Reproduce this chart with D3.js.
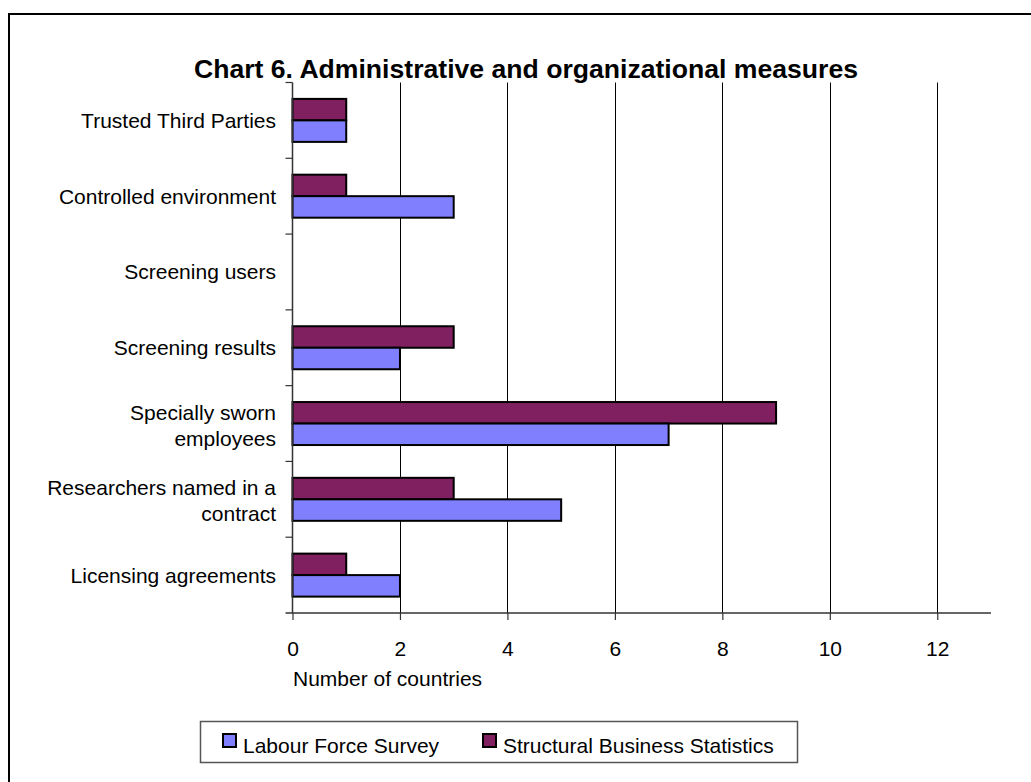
<!doctype html>
<meta charset="utf-8">
<head>
<script src="https://d3js.org/d3.v7.min.js"></script>
<style>
  body { margin: 0; background: #fff; }
  text { font-family: "Liberation Sans", Arial, sans-serif; fill: #000; }
</style>
</head>
<body>
<svg width="1031" height="782"></svg>
<script>
    // categories, top to bottom ("\n" = where the label wraps)
    let categories = [
        "Trusted Third Parties",
        "Controlled environment",
        "Screening users",
        "Screening results",
        "Specially sworn\nemployees",
        "Researchers named in a\ncontract",
        "Licensing agreements"
    ];
    let seriesNames = ["Structural Business Statistics", "Labour Force Survey"];
    let sbsValues = [1, 1, 0, 3, 9, 3, 1];
    let lfsValues = [1, 3, 0, 2, 7, 5, 2];
    let xTicks = [0, 2, 4, 6, 8, 10, 12];
    let legendOrder = ["Labour Force Survey", "Structural Business Statistics"];
    let colors = {
        "Labour Force Survey": "#8080ff",
        "Structural Business Statistics": "#802060"
    };

    let svg = d3.select("svg");

    // outer frame (runs off the right / bottom of the picture)
    svg.append("rect")
        .attr("x", 9).attr("y", 14)
        .attr("width", 1040).attr("height", 790)
        .attr("fill", "none")
        .attr("stroke", "#000")
        .attr("stroke-width", 2);

    let plotLeft = 292.5, plotRight = 991, plotTop = 82.5, plotBottom = 613;

    let x = d3.scaleLinear().domain([0, 13]).range([plotLeft, plotRight]);
    let y = d3.scaleBand().domain(categories).range([plotTop, plotBottom]);
    let groupH = 43;
    let sub = d3.scaleBand().domain(seriesNames)
        .range([(y.step() - groupH) / 2, (y.step() + groupH) / 2]);

    // gridlines
    svg.append("g").selectAll("line")
        .data(xTicks.slice(1))
        .enter().append("line")
        .attr("x1", (d) => Math.round(x(d)) + 0.5)
        .attr("x2", (d) => Math.round(x(d)) + 0.5)
        .attr("y1", plotTop).attr("y2", plotBottom)
        .attr("stroke", "#000")
        .attr("stroke-width", 1);

    // bars
    let rows = categories.map((c, i) => ({
        cat: c,
        vals: [
            { s: seriesNames[0], v: sbsValues[i] },
            { s: seriesNames[1], v: lfsValues[i] }
        ]
    }));

    svg.append("g").selectAll("g")
        .data(rows)
        .enter().append("g")
        .attr("transform", (d) => "translate(0," + y(d.cat) + ")")
        .selectAll("rect")
        .data((d) => d.vals.filter((e) => e.v > 0))
        .enter().append("rect")
        .attr("x", x(0))
        .attr("y", (d) => sub(d.s))
        .attr("width", (d) => x(d.v) - x(0))
        .attr("height", sub.bandwidth())
        .attr("fill", (d) => colors[d.s])
        .attr("stroke", "#000")
        .attr("stroke-width", 2);

    // x axis
    let xAxis = svg.append("g")
        .attr("transform", "translate(0," + plotBottom + ")")
        .call(d3.axisBottom(x).tickValues(xTicks).tickSize(7).tickSizeOuter(0));
    xAxis.select(".domain").remove();
    xAxis.append("line")
        .attr("x1", plotLeft - 7).attr("x2", plotRight)
        .attr("stroke", "#333").attr("stroke-width", 1.5);
    xAxis.selectAll(".tick line").attr("stroke", "#333").attr("stroke-width", 1.2);
    xAxis.selectAll(".tick text")
        .attr("y", 43).attr("dy", 0)
        .style("font-size", "21px")
        .style("font-family", "'Liberation Sans', Arial, sans-serif")
        .attr("fill", "#000");

    // y axis: ticks sit on category boundaries
    let yAxis = svg.append("g");
    yAxis.append("line")
        .attr("x1", plotLeft).attr("x2", plotLeft)
        .attr("y1", plotTop).attr("y2", plotBottom)
        .attr("stroke", "#333").attr("stroke-width", 1.5);
    yAxis.selectAll(".yt")
        .data(d3.range(categories.length))
        .enter().append("line")
        .attr("x1", plotLeft - 7).attr("x2", plotLeft)
        .attr("y1", (i) => y(categories[i]))
        .attr("y2", (i) => y(categories[i]))
        .attr("stroke", "#333").attr("stroke-width", 1.2);

    // category labels
    let lineH = 26;
    svg.append("g").selectAll("text")
        .data(categories)
        .enter().append("text")
        .attr("text-anchor", "end")
        .attr("font-size", 21)
        .each(function(d) {
            let lines = d.split("\n");
            let cy = y(d) + y.bandwidth() / 2;
            let t = d3.select(this);
            lines.forEach((ln, i) => {
                t.append("tspan")
                    .attr("x", 276)
                    .attr("y", cy + 7.5 + (i - (lines.length - 1) / 2) * lineH + (lines.length > 1 ? 1.5 : 0))
                    .text(ln);
            });
        });

    // title + axis title
    svg.append("text")
        .attr("x", 526).attr("y", 78)
        .attr("text-anchor", "middle")
        .attr("font-size", 26.6)
        .attr("font-weight", "bold")
        .text("Chart 6. Administrative and organizational measures");

    svg.append("text")
        .attr("x", 293).attr("y", 686)
        .attr("font-size", 21)
        .text("Number of countries");

    // legend
    let leg = svg.append("g");
    leg.append("rect")
        .attr("x", 200.5).attr("y", 721.5)
        .attr("width", 597).attr("height", 41)
        .attr("fill", "#fff")
        .attr("stroke", "#555")
        .attr("stroke-width", 1.5);
    let legX = [223, 483];
    legendOrder.forEach((name, i) => {
        leg.append("rect")
            .attr("x", legX[i]).attr("y", 734)
            .attr("width", 13).attr("height", 13)
            .attr("fill", colors[name])
            .attr("stroke", "#000")
            .attr("stroke-width", 2);
        leg.append("text")
            .attr("x", legX[i] + 20).attr("y", 753)
            .attr("font-size", 21)
            .text(name);
    });
</script>
</body>
